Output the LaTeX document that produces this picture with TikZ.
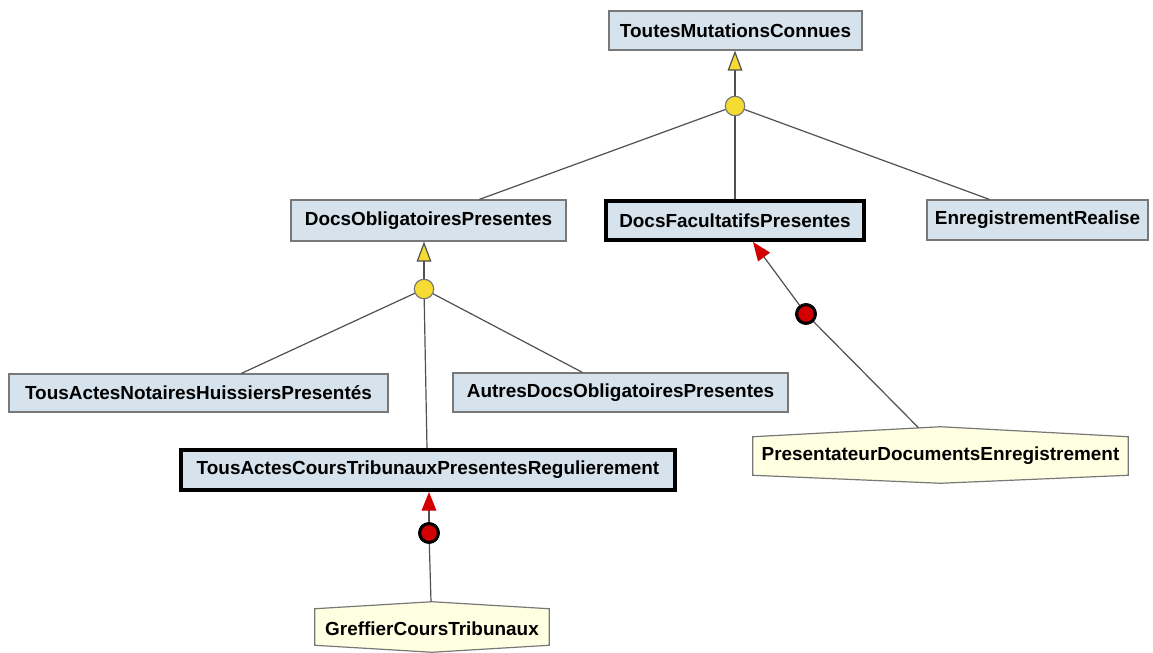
\documentclass[tikz,border=0pt]{standalone}
\usepackage{fontspec}
\setmainfont{Liberation Sans}
\usetikzlibrary{arrows.meta,calc}

\definecolor{boxblue}{RGB}{214,227,237}
\definecolor{boxedge}{RGB}{120,120,120}
\definecolor{actorfill}{RGB}{255,255,226}
\definecolor{gateyellow}{RGB}{246,220,50}
\definecolor{linkgray}{RGB}{80,80,80}
\definecolor{reqred}{RGB}{210,0,0}

\tikzset{
  px/.style={x=0.75pt,y=-0.75pt},
  label font/.style={font=\fontsize{14.2}{16}\selectfont\bfseries},
  goalbox/.style={label font,draw=boxedge,line width=0.9pt,fill=boxblue,
    inner sep=0pt,minimum width=#1},
  focusbox/.style={label font,draw=black,line width=3pt,fill=boxblue,
    inner sep=0pt,minimum width=#1},
  actortext/.style={label font,inner sep=0pt,minimum width=#1},
  actorshape/.style={draw=boxedge,line width=0.9pt,fill=actorfill},
  gate/.style={circle,draw=boxedge,line width=0.8pt,fill=gateyellow,
    inner sep=0pt,minimum size=14.5pt},
  reqdot/.style={circle,draw=black,line width=2.2pt,fill=reqred,
    inner sep=0pt,minimum size=14pt},
  link/.style={draw=linkgray,line width=0.9pt},
  refine/.style={link,-{Triangle[length=15pt,width=11pt,fill=gateyellow]}},
  resp/.style={link,-{Triangle[length=14pt,width=11pt,color=reqred]}},
}

\begin{document}
\begin{tikzpicture}[px]
\useasboundingbox[fill=white] (0,0) rectangle (1153,653);

% goals
\node[goalbox=253*0.75pt,minimum height=39*0.75pt] (top) at (735.5,30.5) {ToutesMutationsConnues};
\node[goalbox=275*0.75pt,minimum height=41*0.75pt] (dop) at (428.5,220.5) {DocsObligatoiresPresentes};
\node[focusbox=258*0.75pt,minimum height=39*0.75pt] (dfp) at (735,220.5) {DocsFacultatifsPresentes};
\node[goalbox=221*0.75pt,minimum height=40*0.75pt] (enr) at (1037.5,220) {EnregistrementRealise};
\node[goalbox=379*0.75pt,minimum height=38*0.75pt] (tanh) at (198.5,393) {TousActesNotairesHuissiersPresentés};
\node[goalbox=335*0.75pt,minimum height=39*0.75pt] (ado) at (620.5,392.5) {AutresDocsObligatoiresPresentes};
\node[focusbox=494*0.75pt,minimum height=40*0.75pt] (tact) at (428,470) {TousActesCoursTribunauxPresentesRegulierement};

% agents (flattened hexagons)
\node[actortext=375*0.75pt,minimum height=38*0.75pt] (pde) at (940.5,456) {};
\path[actorshape] (pde.north west) -- ($(pde.north)+(0,-10)$) -- (pde.north east)
  -- (pde.south east) -- ($(pde.south)+(0,8)$) -- (pde.south west) -- cycle;
\node[label font] at (pde.center) {PresentateurDocumentsEnregistrement};

\node[actortext=234*0.75pt,minimum height=36*0.75pt] (gct) at (432,627) {};
\path[actorshape] (gct.north west) -- ($(gct.north)+(0,-7)$) -- (gct.north east)
  -- (gct.south east) -- ($(gct.south)+(0,7)$) -- (gct.south west) -- cycle;
\node[label font] at ($(gct.center)+(0,2)$) {GreffierCoursTribunaux};

\coordinate (pdeTop) at ($(pde.north)+(-22,-9)$);
\coordinate (gctTop) at ($(gct.north)+(-1,-7)$);

% refinement gates
\node[gate] (g1) at (735,106) {};
\node[gate] (g2) at (424,289) {};

% responsibility links
\node[reqdot] (r1) at (806,314) {};
\node[reqdot] (r2) at (429,533) {};

% refinement links
\draw[refine] (g1) -- (g1 |- top.south);
\draw[link] (g1) -- ($(dop.north west)+(189,0)$);
\draw[link] (g1) -- (g1 |- dfp.north);
\draw[link] (g1) -- ($(enr.north west)+(63,0)$);

\draw[refine] (g2) -- (g2 |- dop.south);
\draw[link] (g2) -- ($(tanh.north west)+(233,0)$);
\draw[link] (g2) -- ($(ado.north west)+(130,0)$);
\draw[link] (g2) -- ($(tact.north west)+(248,0)$);

% assignment links
\draw[link] (pdeTop) -- (r1);
\draw[resp] (r1) -- ($(dfp.south west)+(149,0)$);
\draw[link] (gctTop) -- (r2);
\draw[resp] (r2) -- (r2 |- tact.south);

\node[reqdot] at (r1) {};
\node[reqdot] at (r2) {};
\node[gate] at (g1) {};
\node[gate] at (g2) {};
\end{tikzpicture}
\end{document}
